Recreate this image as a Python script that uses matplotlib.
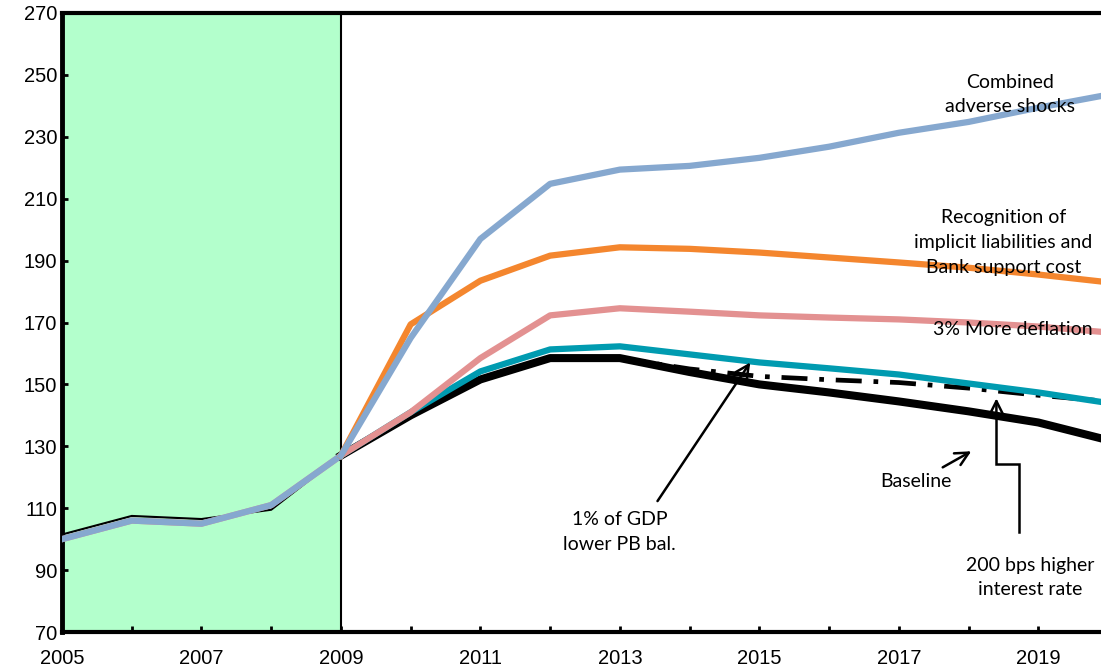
import matplotlib
matplotlib.use("Agg")
import matplotlib.pyplot as plt

# ---- data ----
years_hist = [2005, 2006, 2007, 2008, 2009]
baseline_hist = [101.5, 107.5, 106.5, 109.5, 127]
scen_hist = [100, 106, 105, 111, 127]

years_proj = [2009, 2010, 2011, 2012, 2013, 2014, 2015, 2016, 2017, 2018, 2019, 2020]
combined = [127, 165, 197, 214.8, 219.4, 220.6, 223.2, 226.8, 231.3, 234.8, 239.4, 243.6]
recognition = [127, 169.4, 183.5, 191.6, 194.3, 193.8, 192.6, 191, 189.4, 187.7, 185.5, 183]
deflation = [127, 141, 158.5, 172.3, 174.6, 173.5, 172.3, 171.6, 171, 170, 168.7, 166.8]
pb_lower = [127, 141, 154.2, 161.3, 162.3, 159.7, 157.1, 155.2, 153.2, 150.3, 147.4, 144]
baseline = [127, 140, 151.6, 158.5, 158.5, 154, 150, 147.4, 144.5, 141.3, 137.7, 132]
years_rate = [2013, 2014, 2015, 2016, 2017, 2018, 2019, 2020]
higher_rate = [158.5, 155, 152.6, 151.5, 150.6, 148.8, 146.5, 144.5]

yticks = [70, 90, 110, 130, 150, 170, 190, 210, 230, 250, 270]
xticks_major = [2005, 2007, 2009, 2011, 2013, 2015, 2017, 2019]

C_BLUE = "#86A8CF"
C_ORANGE = "#F4862E"
C_PINK = "#E39191"
C_TEAL = "#009BB0"
C_GREEN = "#B3FFCC"

fig = plt.figure(figsize=(11.01, 6.69), dpi=100)
ax = fig.add_axes([62 / 1101, 1 - 632 / 669, 1 - 62 / 1101, (632 - 13) / 669])

ax.axvspan(2005, 2009, color=C_GREEN, zorder=0, lw=0)
ax.axvline(2009, color="black", lw=1.5, zorder=1)

lw = 4.5
# history
ax.plot(years_hist, baseline_hist, color="black", lw=1.5, zorder=3)
ax.plot(years_hist, scen_hist, color=C_PINK, lw=lw, zorder=4)
ax.plot(years_hist, scen_hist, color=C_BLUE, lw=lw, zorder=5)

# projections
ax.plot(years_proj, baseline, color="black", lw=5.8, zorder=4)
ax.plot(years_rate, higher_rate, color="black", lw=3.4, zorder=4,
        dashes=(5.5, 2.5, 1, 2.5))
ax.plot(years_proj, pb_lower, color=C_TEAL, lw=lw, zorder=5)
ax.plot(years_proj, deflation, color=C_PINK, lw=lw, zorder=5)
ax.plot(years_proj, recognition, color=C_ORANGE, lw=lw, zorder=5)
ax.plot(years_proj, combined, color=C_BLUE, lw=lw, zorder=6)

ax.set_xlim(2005, 2019.9)
ax.set_ylim(70, 270)
ax.set_yticks(yticks)
ax.set_xticks(xticks_major)
ax.set_xticks(list(range(2005, 2020)), minor=True)
ax.tick_params(axis="both", which="both", direction="in", length=4, width=2,
               labelsize=14.5)
ax.tick_params(axis="x", which="major", pad=12)
for lab in ax.get_xticklabels() + ax.get_yticklabels():
    lab.set_fontfamily("Liberation Sans")

ax.spines["right"].set_visible(False)
ax.spines["left"].set_linewidth(3.5)
ax.spines["bottom"].set_linewidth(3)
ax.spines["top"].set_linewidth(3)

tf = dict(family="Lato", fontsize=14, ha="center", va="center",
          linespacing=1.55, zorder=10)
ax.text(2018.6, 243.7, "Combined\nadverse shocks", **tf)
ax.text(2018.5, 195.8, "Recognition of\nimplicit liabilities and\nBank support cost", **tf)
ax.text(2018.63, 167.7, "3% More deflation", **tf)
ax.text(2017.24, 118.7, "Baseline", **tf)
ax.text(2013.0, 102.3, "1% of GDP\nlower PB bal.", **tf)
ax.text(2018.88, 87.6, "200 bps higher\ninterest rate", **tf)

ap = dict(arrowstyle="->", color="black", lw=1.8, mutation_scale=24,
          shrinkA=0, shrinkB=0)
ax.annotate("", xy=(2014.87, 157.1), xytext=(2013.54, 112.3), arrowprops=ap, zorder=9)
ax.annotate("", xy=(2018.04, 128.4), xytext=(2017.63, 123.2), arrowprops=ap, zorder=9)
ax.plot([2018.73, 2018.73, 2018.40, 2018.40], [102.3, 124.2, 124.2, 140],
        color="black", lw=1.8, zorder=9, solid_joinstyle="miter")
ax.annotate("", xy=(2018.40, 145.5), xytext=(2018.40, 139), arrowprops=ap, zorder=9)

fig.savefig("out.png", dpi=100)
